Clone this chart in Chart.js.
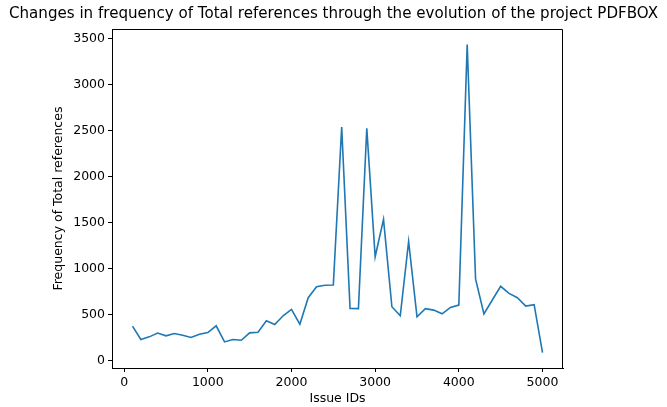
<!DOCTYPE html>
<html>
<head>
<meta charset="utf-8">
<script src="https://cdn.jsdelivr.net/npm/chart.js@4.4.0/dist/chart.umd.min.js"></script>
<style>
  html, body { margin: 0; padding: 0; background: #fff; }
  #wrap { width: 667px; height: 407px; }
</style>
</head>
<body>
<div id="wrap"><canvas id="myChart"></canvas></div>
<script>
// issue ids and frequencies
const issueIds = [100, 200, 300, 400, 500, 600, 700, 800, 900, 1000,
    1100, 1200, 1300, 1400, 1500, 1600, 1700, 1800, 1900, 2000,
    2100, 2200, 2300, 2400, 2500, 2600, 2700, 2800, 2900, 3000,
    3100, 3200, 3300, 3400, 3500, 3600, 3700, 3800, 3900, 4000,
    4100, 4200, 4300, 4400, 4500, 4600, 4700, 4800, 4900, 5000]
const totalRefs = [378, 233, 262, 303, 273, 298, 280, 255, 290, 309,
    382, 207, 233, 225, 305, 312, 436, 396, 491, 560,
    400, 687, 807, 822, 825, 2540, 570, 568, 2525, 1131,
    1537, 589, 491, 1298, 480, 568, 552, 512, 582, 607,
    3435, 891, 512, 662, 811, 734, 687, 596, 612, 91]

const xTicks = [0, 1000, 2000, 3000, 4000, 5000]
const yTicks = [0, 500, 1000, 1500, 2000, 2500, 3000, 3500]

const ctx = document.getElementById('myChart').getContext('2d')

// top and right spines like matplotlib
const frameBox = {
    id: 'frameBox',
    afterDraw(chart) {
        const a = chart.chartArea
        const c = chart.ctx
        const t = Math.round(a.top) + 0.5
        const r = Math.round(a.right) - 0.5
        c.save()
        c.strokeStyle = '#000'
        c.lineWidth = 1
        c.beginPath()
        c.moveTo(a.left, t)
        c.lineTo(r, t)
        c.lineTo(r, a.bottom)
        c.stroke()
        c.restore()
    }
}

const tickFont = {family: 'DejaVu Sans', size: 12.5}

const myChart = new Chart(ctx, {
    type: 'line',
    plugins: [frameBox],
    data: {
        datasets: [{
            data: issueIds.map((id, i) => ({x: id, y: totalRefs[i]})),
            borderColor: '#1f77b4',
            borderWidth: 1.6,
            pointRadius: 0,
            tension: 0,
            fill: false,
            yAxisID: 'y',
        }]
    },
    options: {
        responsive: true,
        maintainAspectRatio: false,
        animation: false,
        layout: {
            padding: 0
        },
        plugins: {
            legend: {display: false},
            tooltip: {enabled: false},
            title: {
                display: true,
                text: 'Changes in frequency of Total references through the evolution of the project PDFBOX',
                color: '#000',
                font: {family: 'DejaVu Sans', size: 15.1, weight: 'normal'},
                padding: {top: 5, bottom: 6},
            },
        },
        scales: {
            x: {
                type: 'linear',
                min: -145,
                max: 5245,
                afterBuildTicks: scale => { scale.ticks = xTicks.map(v => ({value: v})) },
                afterFit: scale => { scale.height = 39 },
                grid: {drawOnChartArea: false, tickLength: 4, tickColor: '#000'},
                border: {color: '#000'},
                ticks: {
                    color: '#000',
                    padding: 3,
                    maxRotation: 0,
                    font: tickFont,
                    callback: v => String(v),
                },
                title: {
                    display: true,
                    text: 'Issue IDs',
                    color: '#000',
                    font: tickFont,
                    padding: {top: 0, bottom: 0.5},
                },
            },
            y: {
                position: 'left',
                min: -76,
                max: 3602,
                afterBuildTicks: scale => { scale.ticks = yTicks.map(v => ({value: v})) },
                afterFit: scale => { scale.width = 112 },
                grid: {drawOnChartArea: false, tickLength: 4, tickColor: '#000'},
                border: {color: '#000'},
                ticks: {
                    color: '#000',
                    padding: 3,
                    font: tickFont,
                    callback: v => String(v),
                },
                title: {
                    display: true,
                    text: 'Frequency of Total references',
                    color: '#000',
                    font: tickFont,
                    padding: {top: 51.5, bottom: 0},
                },
            },
            // empty right gutter so the plot ends where the reference does
            yRight: {
                position: 'right',
                min: 0,
                max: 1,
                afterFit: scale => { scale.width = 104 },
                grid: {display: false},
                border: {display: false},
                ticks: {display: false},
            }
        }
    }
})
</script>
</body>
</html>
